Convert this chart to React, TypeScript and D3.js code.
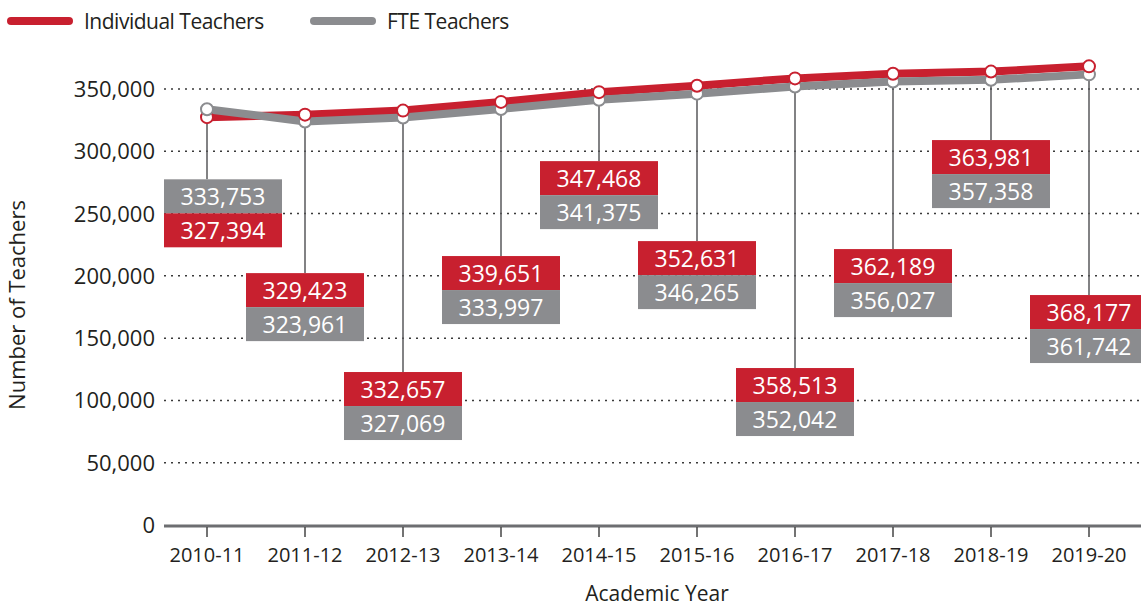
import React, { useRef, useEffect } from "react";
import * as d3 from "d3";

const years = ["2010-11", "2011-12", "2012-13", "2013-14", "2014-15", "2015-16", "2016-17", "2017-18", "2018-19", "2019-20"];
const individual = [327394, 329423, 332657, 339651, 347468, 352631, 358513, 362189, 363981, 368177];
const fte = [333753, 323961, 327069, 333997, 341375, 346265, 352042, 356027, 357358, 361742];
const yTicks = [0, 50000, 100000, 150000, 200000, 250000, 300000, 350000];
// where each callout box starts, in axis units
const calloutTop = [277500, 202200, 122800, 215900, 292100, 227900, 126000, 221500, 309000, 184600];

const W = 1141;
const H = 608;
const RED = "#c8202f";
const GREY = "#8b8c8f";
const INK = "#231f20";

const App = () => {
    const svgRef = useRef<SVGSVGElement>(null);

    useEffect(() => {
        if (!svgRef.current) return;
        const svg = d3.select(svgRef.current);
        svg.selectAll("*").remove();

        const left = 164;
        const x = d3.scalePoint<string>().domain(years).range([207, 1089]);
        const y = d3.scaleLinear().domain([0, 350000]).range([525, 89]);
        const fmt = d3.format(",");

        // legend
        const legend = [
            { label: "Individual Teachers", color: RED, x0: 7 },
            { label: "FTE Teachers", color: GREY, x0: 310 },
        ];
        legend.forEach(l => {
            svg.append("line")
                .attr("x1", l.x0 + 4).attr("x2", l.x0 + 62)
                .attr("y1", 21).attr("y2", 21)
                .attr("stroke", l.color).attr("stroke-width", 8)
                .attr("stroke-linecap", "round");
            svg.append("text")
                .attr("x", l.x0 + 77).attr("y", 29)
                .attr("font-size", 21).attr("fill", INK)
                .attr("letter-spacing", -0.5)
                .text(l.label);
        });

        // grid
        svg.append("g").selectAll("line")
            .data(yTicks.filter(t => t > 0))
            .enter().append("line")
            .attr("x1", left).attr("x2", W)
            .attr("y1", d => y(d)).attr("y2", d => y(d))
            .attr("stroke", "#3a3a3a").attr("stroke-width", 1.5)
            .attr("stroke-dasharray", "2 5");

        svg.append("g").selectAll("text")
            .data(yTicks)
            .enter().append("text")
            .attr("x", 155).attr("y", d => y(d) + 8)
            .attr("text-anchor", "end")
            .attr("font-size", 22).attr("fill", INK)
            .text(d => fmt(d));

        // x axis
        svg.append("line")
            .attr("x1", left).attr("x2", W)
            .attr("y1", y(0) + 1).attr("y2", y(0) + 1)
            .attr("stroke", "#6d6e71").attr("stroke-width", 3);
        const xt = svg.append("g").selectAll("g")
            .data(years).enter().append("g")
            .attr("transform", d => `translate(${x(d)},0)`);
        xt.append("line")
            .attr("y1", y(0) + 2).attr("y2", y(0) + 12)
            .attr("stroke", "#444").attr("stroke-width", 1.5);
        xt.append("text")
            .attr("y", 562).attr("text-anchor", "middle")
            .attr("font-size", 20).attr("fill", INK)
            .text(d => d);

        svg.append("text")
            .attr("x", 657).attr("y", 601)
            .attr("text-anchor", "middle")
            .attr("font-size", 21).attr("fill", INK)
            .text("Academic Year");
        svg.append("text")
            .attr("transform", `translate(25,305) rotate(-90)`)
            .attr("text-anchor", "middle")
            .attr("font-size", 22).attr("fill", INK)
            .text("Number of Teachers");

        // connectors
        svg.append("g").selectAll("line")
            .data(years).enter().append("line")
            .attr("x1", d => x(d)!).attr("x2", d => x(d)!)
            .attr("y1", (d, i) => y(Math.min(individual[i], fte[i])))
            .attr("y2", (d, i) => y(calloutTop[i]))
            .attr("stroke", "#58595b").attr("stroke-width", 1.5);

        // lines
        const line = d3.line<number>()
            .x((d, i) => x(years[i])!)
            .y(d => y(d));
        svg.append("path").datum(individual)
            .attr("d", line).attr("fill", "none")
            .attr("stroke", RED).attr("stroke-width", 8)
            .attr("stroke-linejoin", "round");
        svg.append("path").datum(fte)
            .attr("d", line).attr("fill", "none")
            .attr("stroke", GREY).attr("stroke-width", 8)
            .attr("stroke-linejoin", "round");

        // markers, the higher point on top
        years.forEach((yr, i) => {
            const pts = [
                { v: individual[i], c: RED },
                { v: fte[i], c: GREY },
            ].sort((a, b) => a.v - b.v);
            pts.forEach(p => {
                svg.append("circle")
                    .attr("cx", x(yr)!).attr("cy", y(p.v))
                    .attr("r", 6)
                    .attr("fill", "#fff")
                    .attr("stroke", p.c).attr("stroke-width", 2);
            });
        });

        // callout boxes
        const bw = 118, bh = 34;
        years.forEach((yr, i) => {
            const bx = Math.max(x(yr)! - bw / 2, left);
            const top = y(calloutTop[i]);
            const rows = [
                { v: individual[i], c: RED },
                { v: fte[i], c: GREY },
            ].sort((a, b) => b.v - a.v);
            rows.forEach((r, j) => {
                svg.append("rect")
                    .attr("x", bx).attr("y", top + j * bh)
                    .attr("width", bw).attr("height", bh)
                    .attr("fill", r.c);
                svg.append("text")
                    .attr("x", bx + bw / 2).attr("y", top + j * bh + 26)
                    .attr("text-anchor", "middle")
                    .attr("font-size", 23).attr("fill", "#fff")
                    .text(fmt(r.v));
            });
        });
    }, []);

    return (
        <svg
            ref={svgRef}
            width={W}
            height={H}
            style={{ position: "absolute", left: 0, top: 0, fontFamily: "'Open Sans', sans-serif" }}
        />
    );
};

export default App;
